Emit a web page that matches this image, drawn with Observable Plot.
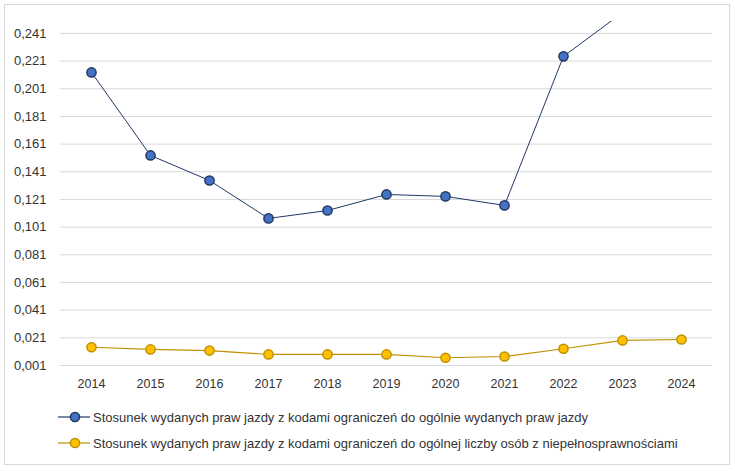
<!DOCTYPE html>
<html>
<head>
<meta charset="utf-8">
<script src="https://cdn.jsdelivr.net/npm/d3@7"></script>
<script src="https://cdn.jsdelivr.net/npm/@observablehq/plot@0.6"></script>
<style>
  html, body { margin: 0; padding: 0; background: #fff; }
  #wrap { position: relative; width: 735px; height: 471px; font-family: "Liberation Sans", Arial, sans-serif; }
  #border { position: absolute; left: 4px; top: 4px; width: 724px; height: 459px; border: 1px solid #d9d9d9; }
  #chart { position: absolute; left: 0; top: 0; }
  .leg { position: absolute; left: 58px; height: 16px; display: flex; align-items: center; font-size: 13px; color: #333; white-space: nowrap; }
  .leg svg { margin-right: 3px; }
</style>
</head>
<body>
<div id="wrap">
  <div id="border"></div>
  <div id="chart"></div>
  <div id="legend"></div>
</div>
<script>
const years = ["2014","2015","2016","2017","2018","2019","2020","2021","2022","2023","2024"];
const seriesNames = [
  "Stosunek wydanych praw jazdy z kodami ograniczeń do ogólnie wydanych praw jazdy",
  "Stosunek wydanych praw jazdy z kodami ograniczeń do ogólnej liczby osób z niepełnosprawnościami"
];
// Series 1 (2023 and 2024 run above the top of the axis and are clipped)
const ratioAll = [0.2128, 0.1528, 0.1347, 0.1073, 0.1130, 0.1246, 0.1232, 0.1167, 0.2244, 0.256, 0.262];
// Series 2
const ratioDisabled = [0.0142, 0.0126, 0.0118, 0.0090, 0.0090, 0.0090, 0.0066, 0.0075, 0.0131, 0.0191, 0.0198];
const yTicks = [0.001, 0.021, 0.041, 0.061, 0.081, 0.101, 0.121, 0.141, 0.161, 0.181, 0.201, 0.221, 0.241];

const lineColors = ["#1F3864", "#BF9000"];
const fillColors = ["#4472C4", "#FFC000"];
const dotStroke = ["#203864", "#BF9000"];

const s1 = years.map((y, i) => ({year: y, value: ratioAll[i]}));
const s2 = years.map((y, i) => ({year: y, value: ratioDisabled[i]}));

const fmt = v => d3.format(".3f")(v).replace(".", ",");

const plot = Plot.plot({
  width: 735,
  height: 400,
  marginLeft: 60,
  marginRight: 23,
  marginTop: 21,
  marginBottom: 35,
  style: {fontFamily: "'Liberation Sans', Arial, sans-serif", fontSize: "12px", color: "#333", background: "transparent"},
  x: {type: "point", domain: years, padding: 0.5, label: null},
  y: {domain: [0.001, 0.2496], label: null},
  marks: [
    Plot.ruleY(yTicks, {stroke: "#d9d9d9", strokeWidth: 1}),
    Plot.axisY(yTicks, {tickSize: 0, tickPadding: 14, tickFormat: fmt, fill: "#333", fontSize: 13}),
    Plot.axisX({tickSize: 0, tickPadding: 14, fill: "#333", fontSize: 12.5}),
    Plot.line(s2, {x: "year", y: "value", stroke: lineColors[1], strokeWidth: 1.2, clip: true}),
    Plot.dot(s2, {x: "year", y: "value", r: 4.6, fill: fillColors[1], stroke: dotStroke[1], strokeWidth: 1.5, clip: true}),
    Plot.line(s1, {x: "year", y: "value", stroke: lineColors[0], strokeWidth: 1, clip: true}),
    Plot.dot(s1, {x: "year", y: "value", r: 4.6, fill: fillColors[0], stroke: dotStroke[0], strokeWidth: 1.5, clip: true})
  ]
});
document.getElementById("chart").appendChild(plot);

const legend = document.getElementById("legend");
const rowsY = [417, 443];
seriesNames.forEach((name, i) => {
  const row = document.createElement("div");
  row.className = "leg";
  row.style.top = (rowsY[i] - 8) + "px";
  row.innerHTML = `<svg width="32" height="12"><line x1="0" x2="32" y1="6" y2="6" stroke="${lineColors[i]}" stroke-width="1.2"/><circle cx="17" cy="6" r="4.6" fill="${fillColors[i]}" stroke="${dotStroke[i]}" stroke-width="1.5"/></svg><span>${name}</span>`;
  legend.appendChild(row);
});
</script>
</body>
</html>
